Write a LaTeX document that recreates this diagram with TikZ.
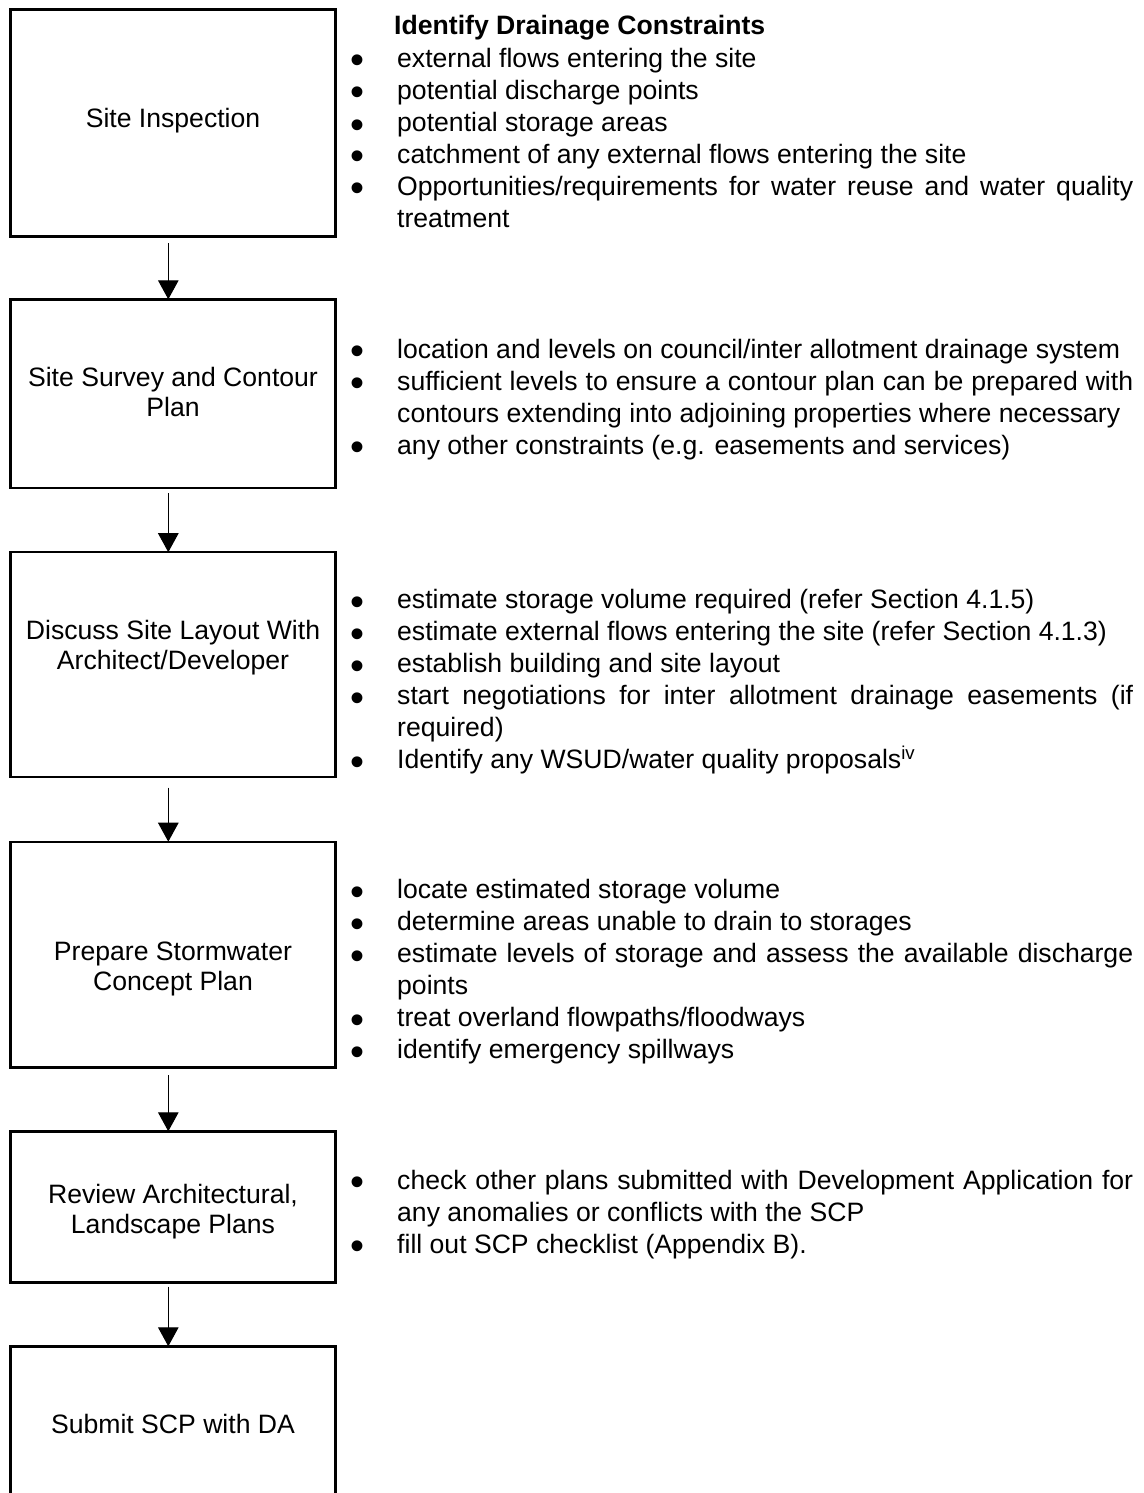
\documentclass[tikz,border=0pt]{standalone}
\usepackage{fontspec}
\usepackage{graphicx}
\setmainfont{Liberation Sans}
\usetikzlibrary{arrows.meta}

\hyphenpenalty=10000
\exhyphenpenalty=10000

% one bulleted paragraph with a hanging indent
\newcommand\dotitem[1]{\noindent\hangindent=46pt\hangafter=1%
  \makebox[46pt][l]{\hspace*{-1pt}\smash{\raisebox{-6.5pt}{\scalebox{1.5}{\textbullet}}}}#1\par}

\tikzset{
  stepbox/.style={draw, rectangle, line width=2.4pt, minimum width=325pt,
    inner sep=0pt, outer sep=0pt, anchor=north west},
  boxlabel/.style={font=\fontsize{26.6}{30}\selectfont, align=center,
    inner sep=0pt, anchor=base},
  listtext/.style={font=\fontsize{26.6}{32}\selectfont,
    text width=782pt, align=justify, inner sep=0pt, anchor=base west},
  flow/.style={-{Triangle[width=20.5pt,length=19pt]}, line width=1.1pt},
}

\begin{document}
\begin{tikzpicture}[x=1pt, y=-1pt]
\useasboundingbox (0,0) rectangle (1143,1493);

% process steps
\node[stepbox, minimum height=226.8pt] (b1) at (10.5,9.5) {};
\node[stepbox, minimum height=188.7pt] (b2) at (10.5,299.3) {};
\node[stepbox, minimum height=224.5pt] (b3) at (10.5,552.2) {};
\node[stepbox, minimum height=225.8pt] (b4) at (10.5,841.7) {};
\node[stepbox, minimum height=151pt]   (b5) at (10.5,1131.3) {};
\node[stepbox, minimum height=190pt]   (b6) at (10.5,1346.3) {};

% step names (anchored on the baseline of their last line)
\node[boxlabel] (l1) at (173,127.7) {Site Inspection};
\node[boxlabel] (l2) at (173,416.7) {Site Survey and Contour\\Plan};
\node[boxlabel] (l3) at (173,669) {Discuss Site Layout With\\Architect/Developer};
\node[boxlabel] (l4) at (173,990) {Prepare Stormwater\\Concept Plan};
\node[boxlabel] (l5) at (173,1233) {Review Architectural,\\Landscape Plans};
\node[boxlabel] (l6) at (173,1433) {Submit SCP with DA};

% flow between steps
\draw[flow, shorten <=7pt]   ([xshift=-4.7pt]b1.south) -- ([xshift=-4.7pt]b2.north);
\draw[flow, shorten <=5.3pt] ([xshift=-4.7pt]b2.south) -- ([xshift=-4.7pt]b3.north);
\draw[flow, shorten <=11pt]  ([xshift=-4.7pt]b3.south) -- ([xshift=-4.7pt]b4.north);
\draw[flow, shorten <=7.5pt] ([xshift=-4.7pt]b4.south) -- ([xshift=-4.7pt]b5.north);
\draw[flow, shorten <=4.4pt] ([xshift=-4.7pt]b5.south) -- ([xshift=-4.7pt]b6.north);

% notes beside each step
\node[listtext] (t1) at (394,34.5) {\bfseries Identify Drainage Constraints};
\node[listtext] (n1) at (351,67.5) {%
  \dotitem{external flows entering the site}%
  \dotitem{potential discharge points}%
  \dotitem{potential storage areas}%
  \dotitem{catchment of any external flows entering the site}%
  \dotitem{Opportunities/requirements for water reuse and water quality\linebreak treatment}};
\node[listtext] (n2) at (351,358) {%
  \dotitem{location and levels on council/inter allotment drainage system}%
  \dotitem{sufficient levels to ensure a contour plan can be prepared with\linebreak contours extending into adjoining properties where necessary}%
  \dotitem{any other constraints (e.g. easements and services)}};
\node[listtext] (n3) at (351,608.5) {%
  \dotitem{estimate storage volume required (refer Section 4.1.5)}%
  \dotitem{estimate external flows entering the site (refer Section 4.1.3)}%
  \dotitem{establish building and site layout}%
  \dotitem{start negotiations for inter allotment drainage easements (if\linebreak required)}%
  \dotitem{Identify any WSUD/water quality proposals\textsuperscript{iv}}};
\node[listtext] (n4) at (351,898.5) {%
  \dotitem{locate estimated storage volume}%
  \dotitem{determine areas unable to drain to storages}%
  \dotitem{estimate levels of storage and assess the available discharge\linebreak points}%
  \dotitem{treat overland flowpaths/floodways}%
  \dotitem{identify emergency spillways}};
\node[listtext] (n5) at (351,1189) {%
  \dotitem{check other plans submitted with Development Application for\linebreak any anomalies or conflicts with the SCP}%
  \dotitem{fill out SCP checklist (Appendix B).}};
\end{tikzpicture}
\end{document}
